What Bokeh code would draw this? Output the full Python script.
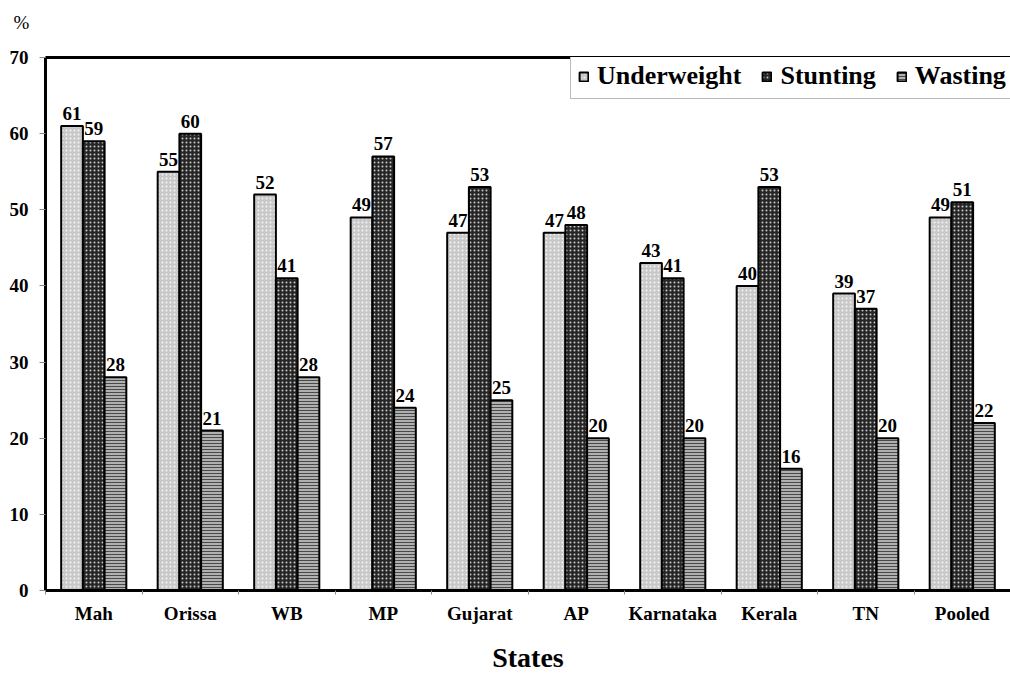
import numpy as np
from bokeh.plotting import figure
from bokeh.models import (ColumnDataSource, Range1d, FixedTicker, LinearAxis, Title)
from bokeh.core.properties import value
from bokeh.embed import file_html
from bokeh.resources import INLINE

states = ["Mah", "Orissa", "WB", "MP", "Gujarat", "AP", "Karnataka", "Kerala", "TN", "Pooled"]
underweight = [61, 55, 52, 49, 47, 47, 43, 40, 39, 49]
stunting = [59, 60, 41, 57, 53, 48, 41, 53, 37, 51]
wasting = [28, 21, 28, 24, 25, 20, 20, 16, 20, 22]
y_ticks = [0, 10, 20, 30, 40, 50, 60, 70]

FONT = "Liberation Serif"
n = len(states)
centers = np.arange(n) + 0.5
bw = 0.225

p = figure(width=1010, height=675, output_backend="svg", toolbar_location=None,
           x_range=Range1d(0, n), y_range=Range1d(0, 70),
           min_border_left=45, min_border_top=57, min_border_bottom=85, min_border_right=0)
p.outline_line_color = None
p.xgrid.visible = False
p.ygrid.visible = False
p.background_fill_color = "white"

series = [
    ("Underweight", underweight, -bw, dict(fill_color="#c8c8c8", hatch_pattern="dot", hatch_color="#f4f4f4", hatch_scale=4, hatch_weight=1)),
    ("Stunting", stunting, 0.0, dict(fill_color="#262626", hatch_pattern="dot", hatch_color="#c8c8c8", hatch_scale=4, hatch_weight=1)),
    ("Wasting", wasting, bw, dict(fill_color="#b0b0b0", hatch_pattern="horizontal_line", hatch_color="#4a4a4a", hatch_scale=3, hatch_weight=1)),
]

for name, vals, off, style in series:
    src = ColumnDataSource(dict(x=centers + off, top=vals, lab=[str(v) for v in vals]))
    p.vbar(x="x", top="top", width=bw, bottom=0, source=src, line_color="black",
           line_width=2, legend_label=name, **style)
    p.text(x="x", y="top", text="lab", source=src, text_align="center", text_baseline="bottom",
           y_offset=-6, text_font=value(FONT), text_font_style="bold", text_font_size="19px",
           text_color="black")

# y axis
yax = p.yaxis[0]
yax.ticker = FixedTicker(ticks=y_ticks)
yax.axis_line_width = 3
yax.axis_line_color = "black"
yax.major_tick_out = 6
yax.major_tick_in = 0
yax.major_tick_line_color = "#888888"
yax.minor_tick_line_color = None
yax.major_label_text_font = FONT
yax.major_label_text_font_style = "bold"
yax.major_label_text_font_size = "19px"
yax.major_label_text_color = "black"
yax.major_label_standoff = 11

# x axis
xax = p.xaxis[0]
xax.ticker = FixedTicker(ticks=list(centers), minor_ticks=list(np.arange(0, n + 1)))
xax.major_label_overrides = {float(c): s for c, s in zip(centers, states)}
xax.axis_line_width = 3
xax.axis_line_color = "black"
xax.major_tick_out = 0
xax.major_tick_in = 0
xax.minor_tick_out = 4
xax.minor_tick_in = 0
xax.minor_tick_line_color = "#888888"
xax.major_label_text_font = FONT
xax.major_label_text_font_style = "bold"
xax.major_label_text_font_size = "19px"
xax.major_label_text_color = "black"
xax.major_label_standoff = 8
xax.axis_label = "States"
xax.axis_label_text_font = FONT
xax.axis_label_text_font_style = "bold"
xax.axis_label_text_font_size = "28px"
xax.axis_label_text_color = "black"
xax.axis_label_standoff = 15

# top border line
top = LinearAxis(ticker=FixedTicker(ticks=[]), axis_line_width=3, axis_line_color="black",
                 major_tick_line_color=None, minor_tick_line_color=None,
                 major_label_text_font_size="0px", major_label_standoff=0,
                 major_tick_out=0, minor_tick_out=0)
p.add_layout(top, "above")

# percent sign
p.add_layout(Title(text="%\n ", align="left", offset=-32, text_font=FONT, text_font_size="19px",
                   text_font_style="normal", text_color="black", standoff=8), "above")

lg = p.legend[0]
lg.orientation = "horizontal"
lg.location = (525, 533 - 42)
lg.label_text_font = FONT
lg.label_text_font_style = "bold"
lg.label_text_font_size = "26px"
lg.label_text_color = "black"
lg.label_height = 26
lg.glyph_width = 11
lg.glyph_height = 11
lg.label_standoff = 8
lg.spacing = 20
lg.padding = 7
lg.margin = 0
lg.border_line_color = "#777777"
lg.border_line_width = 1
lg.background_fill_alpha = 1.0

open("out.html", "w").write(file_html(p, INLINE))
